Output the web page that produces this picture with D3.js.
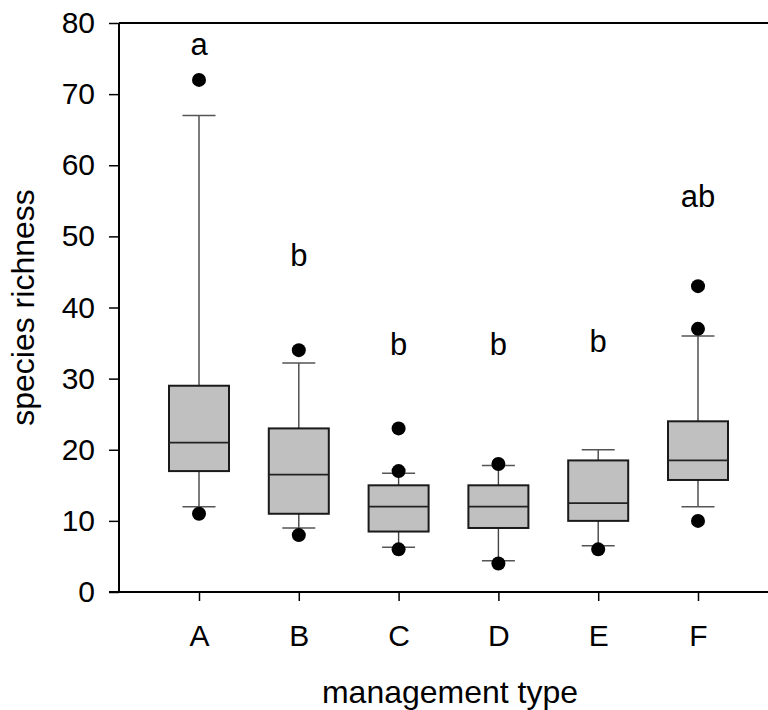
<!DOCTYPE html>
<html>
<head>
<meta charset="utf-8">
<script src="https://cdn.jsdelivr.net/npm/d3@7/dist/d3.min.js"></script>
<style>
  html, body { margin: 0; padding: 0; background: #fff; }
  svg { display: block; }
  text { font-family: "Liberation Sans", Arial, Helvetica, sans-serif; fill: #000; }
</style>
</head>
<body>
<svg id="chart" width="768" height="710"></svg>
<script>
// ---- data ----
const categories = ["A", "B", "C", "D", "E", "F"];
const q1 = [17, 11, 8.5, 9, 10, 15.75];
const medians = [21, 16.5, 12, 12, 12.5, 18.5];
const q3 = [29, 23, 15, 15, 18.5, 24];
const whiskerLow = [12, 9, 6.3, 4.4, 6.5, 12];
const whiskerHigh = [67, 32.2, 16.7, 17.8, 20, 36];
const outliers = [[72, 11], [34, 8], [23, 17, 6], [18, 4], [6], [43, 37, 10]];
const letters = ["a", "b", "b", "b", "b", "ab"];
const letterY = [75.5, 45.8, 33.3, 33.3, 33.7, 54.2];
const yTicks = [0, 10, 20, 30, 40, 50, 60, 70, 80];
const xTitle = "management type";
const yTitle = "species richness";

// ---- layout ----
const mLeft = 119, mTop = 23, mBottom = 592, mRight = 768;
const svg = d3.select("#chart");

const y = d3.scaleLinear().domain([0, 80]).range([mBottom, mTop]);
const x = d3.scalePoint().domain(categories).range([199, 698]);

const boxW = 60, capW = 33;

const data = categories.map((c, i) => ({
  c, q1: q1[i], med: medians[i], q3: q3[i], lo: whiskerLow[i], hi: whiskerHigh[i],
  out: outliers[i], letter: letters[i], ly: letterY[i]
}));

const g = svg.append("g");

// whiskers
const wh = g.selectAll("g.wh").data(data).join("g").attr("class", "wh");
wh.append("line")
  .attr("x1", d => x(d.c)).attr("x2", d => x(d.c))
  .attr("y1", d => y(d.q3)).attr("y2", d => y(d.hi))
  .attr("stroke", "#444").attr("stroke-width", 1.4);
wh.append("line")
  .attr("x1", d => x(d.c)).attr("x2", d => x(d.c))
  .attr("y1", d => y(d.q1)).attr("y2", d => y(d.lo))
  .attr("stroke", "#444").attr("stroke-width", 1.4);
wh.append("line")
  .attr("x1", d => x(d.c) - capW / 2).attr("x2", d => x(d.c) + capW / 2)
  .attr("y1", d => y(d.hi)).attr("y2", d => y(d.hi))
  .attr("stroke", "#555").attr("stroke-width", 1.5);
wh.append("line")
  .attr("x1", d => x(d.c) - capW / 2).attr("x2", d => x(d.c) + capW / 2)
  .attr("y1", d => y(d.lo)).attr("y2", d => y(d.lo))
  .attr("stroke", "#555").attr("stroke-width", 1.5);

// boxes
g.selectAll("rect.box").data(data).join("rect").attr("class", "box")
  .attr("x", d => x(d.c) - boxW / 2).attr("width", boxW)
  .attr("y", d => y(d.q3)).attr("height", d => y(d.q1) - y(d.q3))
  .attr("fill", "#c0c0c0").attr("stroke", "#1a1a1a").attr("stroke-width", 2);

// medians
g.selectAll("line.med").data(data).join("line").attr("class", "med")
  .attr("x1", d => x(d.c) - boxW / 2).attr("x2", d => x(d.c) + boxW / 2)
  .attr("y1", d => y(d.med)).attr("y2", d => y(d.med))
  .attr("stroke", "#222").attr("stroke-width", 1.6);

// outliers
const pts = data.flatMap(d => d.out.map(v => ({ c: d.c, v })));
g.selectAll("circle.out").data(pts).join("circle").attr("class", "out")
  .attr("cx", d => x(d.c)).attr("cy", d => y(d.v)).attr("r", 7).attr("fill", "#000");

// significance letters
g.selectAll("text.letter").data(data).join("text").attr("class", "letter")
  .attr("x", d => x(d.c)).attr("y", d => y(d.ly))
  .attr("text-anchor", "middle").style("font-size", "31px")
  .text(d => d.letter);

// axes
const yAxis = d3.axisLeft(y).tickValues(yTicks).tickSize(10).tickSizeOuter(0).tickPadding(14);
const ya = svg.append("g").attr("transform", `translate(${mLeft},0)`).call(yAxis);
ya.select(".domain").remove();
ya.selectAll(".tick line").attr("stroke", "#000").attr("stroke-width", 1.5);
ya.selectAll(".tick text").style("font-size", "30px").attr("fill", "#000");

const xAxis = d3.axisBottom(x).tickSize(9).tickSizeOuter(0).tickPadding(24);
const xa = svg.append("g").attr("transform", `translate(0,${mBottom})`).call(xAxis);
xa.select(".domain").remove();
xa.selectAll(".tick line").attr("stroke", "#000").attr("stroke-width", 1.5);
xa.selectAll(".tick text").style("font-size", "30px").attr("fill", "#000");

// frame lines (left, top, bottom; right edge is beyond the view)
svg.append("line").attr("x1", mLeft).attr("x2", mLeft).attr("y1", y(80)).attr("y2", y(0))
  .attr("stroke", "#000").attr("stroke-width", 2);
svg.append("line").attr("x1", mLeft).attr("x2", mRight).attr("y1", y(80)).attr("y2", y(80))
  .attr("stroke", "#000").attr("stroke-width", 2);
svg.append("line").attr("x1", mLeft - 10).attr("x2", mRight).attr("y1", y(0)).attr("y2", y(0))
  .attr("stroke", "#000").attr("stroke-width", 2);

// titles
svg.append("text").attr("x", 450).attr("y", 703).attr("text-anchor", "middle")
  .style("font-size", "32px").text(xTitle);
svg.append("text").attr("transform", `translate(34,${(mTop + mBottom) / 2}) rotate(-90)`)
  .attr("text-anchor", "middle").style("font-size", "32px").text(yTitle);
</script>
</body>
</html>
